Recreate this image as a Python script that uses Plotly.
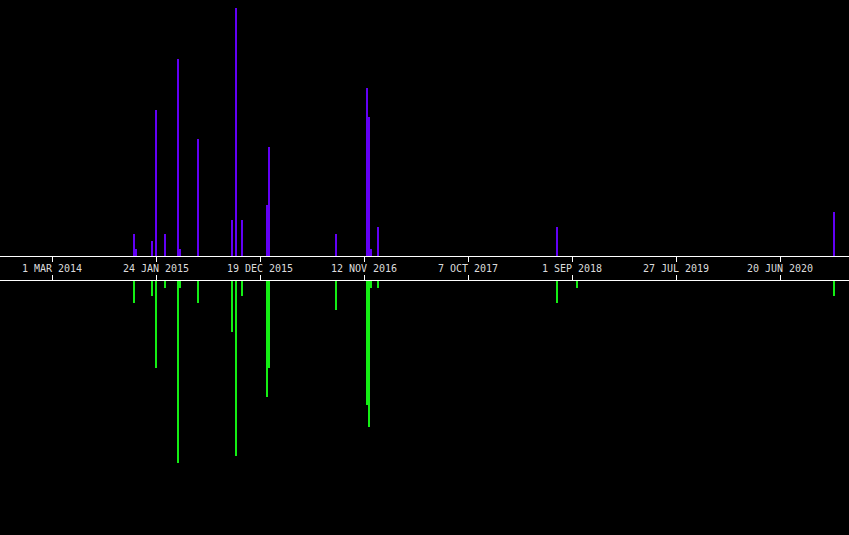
import plotly.graph_objects as go
from plotly.subplots import make_subplots

# Weekly counts
up_dates = ["2014-11-15", "2014-11-22", "2015-01-10", "2015-01-24", "2015-02-21",
            "2015-04-05", "2015-04-11", "2015-06-06", "2015-09-20", "2015-10-04",
            "2015-10-23", "2016-01-09", "2016-01-17", "2016-08-16", "2016-11-21",
            "2016-11-27", "2016-12-04", "2016-12-26", "2018-07-16", "2020-12-09"]
up_values = [3, 1, 2, 20, 3, 27, 1, 16, 5, 34, 5, 7, 15, 3, 23, 19, 1, 4, 4, 6]

down_dates = ["2014-11-15", "2015-01-10", "2015-01-24", "2015-02-21", "2015-04-05",
              "2015-04-11", "2015-06-06", "2015-09-20", "2015-10-04", "2015-10-23",
              "2016-01-09", "2016-01-17", "2016-08-16", "2016-11-21", "2016-11-27",
              "2016-12-04", "2016-12-26", "2018-07-16", "2018-09-17", "2020-12-09"]
down_values = [3, 2, 12, 1, 25, 1, 3, 7, 24, 2, 16, 12, 4, 17, 20, 1, 1, 3, 1, 2]

tick_dates = ["2014-03-01", "2015-01-24", "2015-12-19", "2016-11-12",
              "2017-10-07", "2018-09-01", "2019-07-27", "2020-06-20"]
tick_labels = ["1 MAR 2014", "24 JAN 2015", "19 DEC 2015", "12 NOV 2016",
               "7 OCT 2017", "1 SEP 2018", "27 JUL 2019", "20 JUN 2020"]

W, H = 849, 535
BAR_W = 6.5 * 86400000

fig = make_subplots(rows=2, cols=1, shared_xaxes=False, vertical_spacing=0)

fig.add_trace(go.Bar(x=up_dates, y=up_values, width=BAR_W,
                     marker=dict(color="#6200f5", line=dict(width=0))), row=1, col=1)
fig.add_trace(go.Bar(x=down_dates, y=down_values, width=BAR_W,
                     marker=dict(color="#14ee14", line=dict(width=0))), row=2, col=1)

xr = ["2013-09-17 12:00", "2021-01-24 07:00"]
top_dom = [1 - 256 / H, 1]
bot_dom = [0, 1 - 281 / H]

fig.update_layout(
    width=W, height=H,
    margin=dict(l=0, r=0, t=0, b=0),
    paper_bgcolor="black", plot_bgcolor="black",
    showlegend=False, bargap=0,
    xaxis=dict(type="date", range=xr, domain=[0, 1], anchor="y",
               showgrid=False, zeroline=False, showline=True, linecolor="white", linewidth=1,
               ticks="outside", ticklen=5, tickcolor="white", tickwidth=1,
               tickmode="array", tickvals=tick_dates, ticktext=tick_labels,
               tickfont=dict(family="DejaVu Sans Mono", size=10, color="#dcdcdc"),
               ticklabelstandoff=-2, showticklabels=True),
    xaxis2=dict(type="date", range=xr, domain=[0, 1], anchor="y2", side="top",
                showgrid=False, zeroline=False, showline=True, linecolor="white", linewidth=1,
                ticks="outside", ticklen=5, tickcolor="white", tickwidth=1,
                tickmode="array", tickvals=tick_dates, showticklabels=False),
    yaxis=dict(domain=top_dom, range=[0, 35.1], visible=False, showgrid=False, zeroline=False),
    yaxis2=dict(domain=bot_dom, range=[34.9, 0], visible=False, showgrid=False, zeroline=False),
)

fig.write_html("out.html", config={"displayModeBar": False},
               post_script="document.body.style.margin='0';document.body.style.background='black';document.body.style.overflow='hidden';")
